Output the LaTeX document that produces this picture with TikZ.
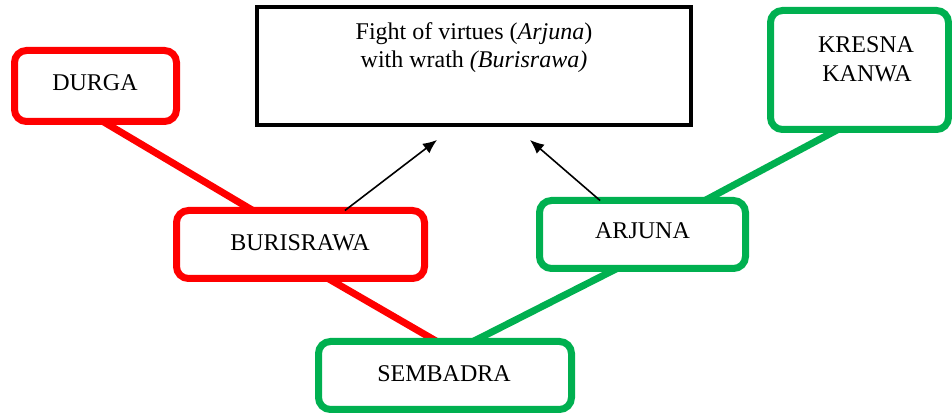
\documentclass[tikz,border=0pt]{standalone}
\usepackage{fontspec}
\setmainfont{Liberation Serif}
\usetikzlibrary{arrows.meta,calc,backgrounds}
\definecolor{rd}{HTML}{FF0000}
\definecolor{gr}{HTML}{00B050}
\begin{document}
\begin{tikzpicture}[x=0.5pt,y=-0.5pt,
  redbox/.style={draw=rd,line width=3.5pt,rounded corners=6pt,fill=white,inner sep=0pt,outer sep=0pt},
  greenbox/.style={draw=gr,line width=3.5pt,rounded corners=6pt,fill=white,inner sep=0pt,outer sep=0pt},
  blackbox/.style={draw=black,line width=2.2pt,fill=white,inner sep=0pt,outer sep=0pt},
  lbl/.style={inner sep=0pt,anchor=base,font=\fontsize{12}{13.8}\selectfont},
  redline/.style={draw=rd,line width=3.5pt},
  greenline/.style={draw=gr,line width=3.5pt},
  arr/.style={draw=black,line width=0.8pt,-{Latex[length=7pt,width=6pt]}}]
\useasboundingbox (0,0) rectangle (952,415);
% boxes
\node[blackbox,minimum width=217pt,minimum height=59pt] (fight) at (474,66) {};
\node[redbox,minimum width=81pt,minimum height=35.5pt] (durga) at (95.5,86) {};
\node[redbox,minimum width=124pt,minimum height=34pt] (buris) at (300.5,244.5) {};
\node[greenbox,minimum width=103pt,minimum height=34pt] (arjuna) at (642.5,234.5) {};
\node[greenbox,minimum width=89pt,minimum height=59.5pt] (kresna) at (859.5,70) {};
\node[greenbox,minimum width=126.5pt,minimum height=34pt] (sembadra) at (445,375.5) {};
% labels
\node[lbl] (t1) at (474,40) {Fight of virtues (\textit{Arjuna})};
\node[lbl] (t2) at (474,68) {with wrath \textit{(Burisrawa)}};
\node[lbl] (tdurga) at (95,91) {DURGA};
\node[lbl] (tburis) at (300,251) {BURISRAWA};
\node[lbl] (tarjuna) at (642.5,239) {ARJUNA};
\node[lbl] (tk1) at (866,53) {KRESNA};
\node[lbl] (tk2) at (867,82) {KANWA};
\node[lbl] (tsem) at (444,381.5) {SEMBADRA};
% connectors
\begin{scope}[on background layer]
\draw[redline] ($(durga.south west)!0.546!(durga.south east)$) -- ($(buris.north west)!0.308!(buris.north east)$);
\draw[redline] ($(buris.south west)!0.611!(buris.south east)$) -- ($(sembadra.north west)!0.468!(sembadra.north east)$);
\draw[greenline] ($(kresna.south west)!0.379!(kresna.south east)$) -- ($(arjuna.north west)!0.803!(arjuna.north east)$);
\draw[greenline] ($(arjuna.south west)!0.376!(arjuna.south east)$) -- ($(sembadra.north west)!0.611!(sembadra.north east)$);
\end{scope}
\coordinate (tipL) at (437,140);
\coordinate (tipR) at (530,140);
\draw[arr] ($(buris.north west)!0.679!(buris.north east)$) -- (tipL);
\draw[arr] ($(arjuna.north west)!0.294!(arjuna.north east)$) -- (tipR);
\end{tikzpicture}
\end{document}
